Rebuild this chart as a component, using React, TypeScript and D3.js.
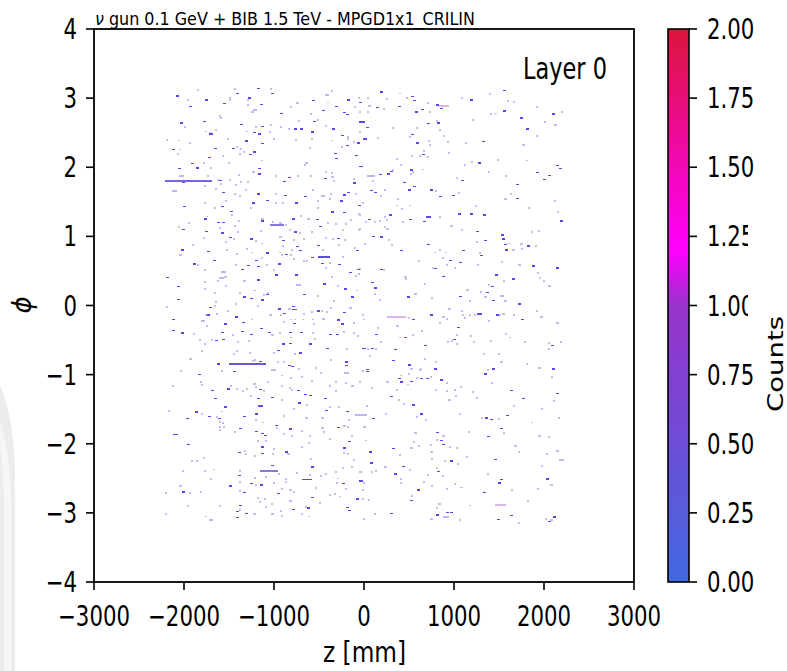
import React from "react";
import * as d3 from "d3";

// ---------- data (z in mm, phi in rad) ----------
const xTicks = [-3000, -2000, -1000, 0, 1000, 2000, 3000];
const yTicks = [-4, -3, -2, -1, 0, 1, 2, 3, 4];
const cTicks = [0, 0.25, 0.5, 0.75, 1.0, 1.25, 1.5, 1.75, 2.0];
const cStops = [0, 1.0, 1.2, 2.0];
const cColors = ["#4169e1", "#9932cc", "#ff00ff", "#dc143c"];

const darkHits: [number, number][] = [
[-1181,3.14],[-1415,3.07],[-1026,3.07],[-2074,3.03],[-1277,3.00],[-1755,2.97],[-1144,2.91],[-566,2.96],[-174,2.97],[-40,2.94],[-1929,2.88],[-1555,2.92],[-307,2.88],[-926,2.78],[-226,2.79],[-455,2.82],[-551,2.66],[-185,2.76],[-2029,2.64],[-1774,2.66],[-1366,2.62],[-1137,2.59],[-766,2.55],[-703,2.55],[-340,2.55],[-1218,2.50],[-1166,2.48],[-574,2.51],[-240,2.46],[-1315,2.38],[4,2.41],[-1129,2.34],[-192,2.31],[-63,2.35],[-2126,2.26],[-1655,2.27],[-1455,2.27],[-322,2.20],[-1270,2.18],[-1722,2.14],[-1226,2.22],[-85,2.17],[-314,2.13],[-1907,2.05],[-1852,1.99],[-48,2.01],[-2055,1.98],[-1163,1.98],[-1170,1.90],[-837,1.85],[-429,1.84],[-2007,1.78],[-1600,1.81],[-885,1.79],[-114,1.77],[-1570,1.63],[-1174,1.61],[-874,1.59],[-655,1.58],[-222,1.60],[-181,1.63],[-1233,1.48],[-1074,1.52],[-759,1.48],[-255,1.51],[-2003,1.43],[-1574,1.43],[-351,1.35],[-226,1.34],[-55,1.45],[-1478,1.36],[-1766,1.25],[-1618,1.20],[-1570,1.20],[-1137,1.22],[-785,1.25],[-522,1.24],[-485,1.14],[-2015,1.10],[-1755,1.07],[-1574,1.05],[-766,1.06],[-285,0.97],[-1492,0.98],[-1255,0.96],[-903,0.94],[-744,0.85],[-707,0.79],[-514,0.87],[-77,0.79],[-2018,0.80],[-1737,0.78],[-1077,0.76],[-870,0.74],[-1670,0.65],[-1203,0.65],[-944,0.60],[-581,0.69],[-470,0.61],[-281,0.59],[-1892,0.60],[-1352,0.52],[-1285,0.58],[-1181,0.56],[-151,0.48],[-63,0.52],[-2189,0.40],[-974,0.44],[-755,0.44],[-1174,0.37],[-2070,0.27],[-1077,0.16],[-440,0.31],[-211,0.24],[-1329,0.12],[-1255,0.10],[-1137,0.08],[-670,0.16],[-137,0.12],[-2066,0.09],[-1707,-0.03],[-944,-0.05],[-785,-0.02],[-892,-0.12],[-507,-0.08],[-226,-0.10],[-1729,-0.14],[-1426,-0.17],[-2122,-0.20],[-1544,-0.27],[-1340,-0.25],[-1144,-0.33],[-781,-0.26],[-292,-0.21],[-240,-0.27],[-2126,-0.36],[-2018,-0.40],[-1581,-0.39],[-1359,-0.38],[-1255,-0.42],[-1055,-0.39],[-818,-0.39],[-700,-0.39],[-381,-0.42],[-300,-0.42],[-1648,-0.51],[-1567,-0.49],[-900,-0.56],[-818,-0.55],[-596,-0.56],[4,-0.62],[-959,-0.65],[-715,-0.69],[-411,-0.62],[-1155,-0.81],[-833,-0.87],[-800,-0.88],[-203,-0.82],[-196,-0.87],[-1618,-0.85],[-1441,-0.96],[-1833,-1.00],[-1159,-1.22],[-1515,-1.21],[-1685,-1.23],[-737,-1.23],[-655,-1.29],[-603,-1.30],[-1655,-1.35],[-1181,-1.35],[-1018,-1.33],[-722,-1.41],[-433,-1.35],[-1544,-1.47],[-1870,-1.54],[-1203,-1.57],[-426,-1.52],[-189,-1.53],[-1722,-1.61],[-1607,-1.64],[-1329,-1.61],[-1966,-1.64],[-981,-1.74],[-1374,-1.78],[-818,-1.79],[-285,-1.77],[-1203,-1.82],[-1137,-1.85],[-1100,-1.88],[-1959,-2.01],[-166,-1.97],[-1137,-2.05],[-870,-2.12],[-1389,-2.13],[-1129,-2.14],[-218,-2.06],[-1018,-2.32],[-581,-2.34],[-1389,-2.46],[-48,-2.54],[-1255,-2.58],[-1144,-2.60],[-233,-2.58],[-1492,-2.61],[-2011,-2.70],[-1337,-2.71],[-952,-2.72],[-581,-2.78],[-77,-2.80],[-1381,-2.89],[-626,-2.93],[-189,-2.92],[-166,-2.97],[-1411,-2.98],[-1307,-3.01],[-1411,-3.07],[-789,-2.95],
[193,3.09],[534,3.02],[556,2.96],[808,2.90],[852,2.85],[1186,2.97],[1556,3.11],[149,2.86],[386,2.88],[578,2.80],[645,2.83],[2097,2.77],[1556,2.81],[823,2.64],[712,2.63],[37,2.57],[1749,2.71],[1808,2.55],[8,2.41],[534,2.47],[593,2.35],[1319,2.37],[652,2.18],[1275,2.06],[527,1.96],[304,1.94],[-37,2.01],[2141,2.02],[2178,1.98],[178,1.89],[267,1.90],[1919,1.92],[2053,1.88],[2001,1.82],[1089,1.81],[445,1.78],[556,1.72],[75,1.66],[119,1.63],[497,1.67],[741,1.67],[845,1.58],[986,1.59],[1697,1.75],[1697,1.55],[60,1.24],[289,1.31],[512,1.24],[667,1.21],[1060,1.32],[1186,1.32],[1334,1.31],[1252,1.07],[2193,1.22],[97,1.00],[186,0.99],[712,0.88],[408,0.79],[1097,0.79],[1297,0.72],[1349,0.94],[1534,1.02],[1541,0.96],[1564,0.88],[1578,0.80],[1823,0.86],[956,0.65],[1067,0.62],[786,0.53],[186,0.52],[1875,0.57],[2141,0.54],[882,0.42],[1467,0.44],[1660,0.38],[89,0.33],[126,0.25],[1423,0.27],[489,0.12],[1067,0.13],[1364,0.19],[1430,0.07],[1719,0.02],[541,-0.20],[741,-0.14],[1482,-0.14],[1756,-0.20],[134,-0.42],[460,-0.46],[682,-0.58],[1045,-0.32],[1001,-0.49],[2090,-0.58],[-14,-0.62],[89,-0.62],[349,-0.64],[319,-0.80],[504,-0.86],[786,-0.92],[30,-0.93],[30,-0.96],[1430,-0.92],[2104,-0.92],[630,-1.06],[697,-1.06],[852,-1.08],[393,-1.06],[415,-1.11],[519,-1.10],[1341,-0.99],[297,-1.32],[549,-1.44],[1638,-1.23],[1771,-1.35],[2141,-1.27],[638,-1.57],[1356,-1.63],[1408,-1.65],[1586,-1.59],[104,-1.64],[808,-1.84],[860,-1.95],[882,-2.01],[1378,-1.90],[1527,-1.78],[67,-2.12],[326,-2.07],[75,-2.28],[430,-2.33],[349,-2.44],[823,-2.40],[963,-2.25],[1460,-2.23],[1519,-2.52],[1497,-2.57],[2030,-2.51],[-29,-2.54],[601,-2.67],[519,-2.82],[304,-3.01],[808,-3.03],[919,-3.00],[963,-3.00],[1334,-2.71],[1630,-3.04],[1490,-3.10],[2053,-3.13],[2112,-3.06]
];

const paleHits: [number, number][] = [
[-1848,3.12],[-1433,3.14],[-1033,3.14],[-359,3.10],[-1492,3.00],[-1959,2.97],[-1485,2.98],[-1289,2.98],[-740,2.93],[-403,2.94],[-55,3.00],[-1285,2.91],[-811,2.88],[-96,2.88],[-1240,2.80],[-589,2.77],[-48,2.80],[-1596,2.75],[-1585,2.71],[-507,2.69],[-722,2.67],[-1989,2.59],[-1196,2.58],[-1033,2.61],[-922,2.58],[-833,2.55],[-422,2.60],[-1648,2.54],[-1759,2.52],[-1711,2.50],[-1300,2.52],[-1048,2.51],[-181,2.44],[-48,2.51],[-2189,2.40],[-2059,2.39],[-1507,2.41],[-996,2.41],[-752,2.40],[-577,2.41],[-359,2.39],[-181,2.41],[-1937,2.35],[-248,2.29],[-114,2.37],[-2044,2.26],[-1411,2.29],[-1370,2.27],[-596,2.28],[-1337,2.23],[-1374,2.19],[-2066,2.19],[-1563,2.17],[-1137,2.10],[-640,2.07],[-1500,2.07],[-1781,2.07],[-1700,1.99],[-655,2.03],[-1229,1.93],[-422,1.93],[-359,1.92],[-1737,1.88],[-1392,1.89],[-974,1.87],[-737,1.88],[-585,1.88],[-351,1.86],[-107,1.83],[-1626,1.82],[-1492,1.82],[-1370,1.79],[-1292,1.79],[-337,1.81],[-1766,1.73],[-1589,1.76],[-1426,1.75],[-1648,1.69],[-1311,1.67],[-1433,1.61],[-1374,1.59],[-981,1.62],[-566,1.67],[-370,1.61],[-85,1.62],[-11,1.48],[-1766,1.49],[-1537,1.51],[-981,1.49],[-896,1.48],[-507,1.51],[-374,1.54],[-1655,1.41],[-1255,1.41],[-514,1.41],[-1463,1.31],[-1944,1.19],[-1748,1.29],[-1389,1.23],[-1129,1.26],[-1015,1.21],[-929,1.19],[-863,1.17],[-700,1.30],[-618,1.25],[-396,1.19],[-311,1.18],[-196,1.18],[-144,1.24],[-55,1.32],[-2052,1.14],[-1596,1.13],[-1433,1.15],[-1396,1.06],[-1144,1.08],[-929,1.00],[-826,1.10],[-714,1.05],[-581,1.07],[-426,0.98],[-344,0.97],[-237,1.09],[-55,1.10],[-1774,0.98],[-1448,0.97],[-1537,0.92],[-1203,0.94],[-781,0.95],[-670,0.96],[-211,0.95],[-1900,0.88],[-1526,0.81],[-1137,0.90],[-903,0.87],[-796,0.81],[-455,0.81],[-274,0.88],[-100,0.83],[-2040,0.74],[-1407,0.75],[-1300,0.82],[-1248,0.77],[-933,0.77],[-907,0.74],[-811,0.73],[-781,0.67],[-233,0.70],[-1426,0.59],[-1137,0.69],[-1077,0.59],[-663,0.65],[-633,0.65],[-381,0.62],[-1848,0.59],[-1766,0.52],[-1626,0.36],[-1003,0.52],[-426,0.55],[-55,0.46],[-1540,0.42],[-1329,0.36],[-359,0.41],[-92,0.43],[-1766,0.34],[-1766,0.24],[-1537,0.28],[-1218,0.22],[-1111,0.15],[-1063,0.19],[-285,0.28],[-77,0.22],[-1655,0.19],[-1381,0.19],[-514,0.14],[-333,0.07],[-2192,-0.02],[-1652,0.00],[-1644,0.05],[-1422,0.02],[-1178,0.00],[-829,-0.05],[-663,-0.12],[-577,-0.09],[-466,-0.08],[-414,-0.09],[-363,-0.03],[-151,-0.03],[-11,-0.14],[-1759,-0.14],[-1637,-0.12],[-1507,-0.08],[-1248,-0.20],[-1040,-0.13],[-922,-0.13],[-811,-0.20],[-766,-0.20],[-677,-0.20],[-566,-0.20],[-451,-0.19],[-1748,-0.29],[-892,-0.24],[-559,-0.26],[-114,-0.25],[-1892,-0.41],[-1455,-0.42],[-1018,-0.42],[-937,-0.39],[-811,-0.46],[-566,-0.39],[-226,-0.38],[-107,-0.40],[-63,-0.44],[-1826,-0.49],[-1685,-0.50],[-1766,-0.56],[-1396,-0.52],[-1277,-0.51],[-544,-0.48],[-1796,-0.66],[-1407,-0.65],[-1263,-0.69],[-996,-0.68],[-766,-0.70],[-189,-0.63],[-1929,-0.77],[-1448,-0.70],[-1211,-0.78],[-959,-0.81],[-892,-0.82],[-722,-0.91],[-537,-0.90],[-366,-0.78],[-1233,-0.80],[-1581,-0.94],[-2033,-0.94],[-907,-1.01],[-477,-0.97],[-11,-0.95],[-1811,-1.10],[-1796,-1.15],[-1218,-1.13],[-1066,-1.10],[-914,-1.16],[-815,-1.05],[-685,-1.03],[-574,-1.09],[-314,-1.10],[-203,-1.12],[-2122,-1.16],[-1478,-1.16],[-1411,-1.20],[-1300,-1.20],[-1196,-1.17],[-1344,-1.24],[-1107,-1.23],[-826,-1.19],[-796,-1.22],[-374,-1.16],[-307,-1.24],[-129,-1.16],[-1255,-1.30],[-914,-1.36],[-633,-1.44],[-374,-1.47],[-281,-1.46],[-2166,-1.52],[-1803,-1.57],[-1574,-1.53],[-892,-1.59],[-774,-1.50],[-1633,-1.61],[-1203,-1.65],[-462,-1.63],[-1596,-1.68],[-1566,-1.70],[-1552,-1.75],[-1603,-1.76],[-1122,-1.69],[-640,-1.63],[-166,-1.66],[-966,-1.77],[-685,-1.81],[-462,-1.77],[-218,-1.74],[-174,-1.76],[-3,-1.75],[-1596,-1.80],[-1433,-1.83],[-892,-1.85],[-796,-1.89],[-603,-1.89],[-448,-1.83],[-137,-1.89],[-1174,-1.96],[-1085,-1.96],[-611,-1.98],[-374,-1.93],[-996,-2.07],[-840,-2.15],[-692,-2.05],[-1322,-2.10],[-1315,-2.15],[-1011,-2.14],[-226,-2.13],[-174,-2.14],[-1774,-2.20],[-1907,-2.25],[-1855,-2.24],[-1211,-2.18],[-589,-2.22],[-114,-2.23],[-2011,-2.39],[-1766,-2.39],[-1670,-2.37],[-1378,-2.39],[-744,-2.42],[-426,-2.44],[-314,-2.40],[-233,-2.35],[-137,-2.34],[-33,-2.40],[-1211,-2.49],[-1092,-2.48],[-944,-2.43],[-603,-2.45],[-1700,-2.51],[-870,-2.51],[-477,-2.47],[-285,-2.50],[-1374,-2.55],[-1203,-2.59],[-1003,-2.56],[-863,-2.55],[-300,-2.56],[-3,-2.57],[-2040,-2.61],[-914,-2.65],[-818,-2.67],[-537,-2.64],[-203,-2.65],[-2203,-2.71],[-1937,-2.71],[-1811,-2.70],[-1381,-2.68],[-781,-2.70],[-374,-2.74],[-322,-2.73],[-263,-2.76],[-11,-2.66],[-1174,-2.78],[-1100,-2.79],[-818,-2.82],[-1159,-2.84],[-1026,-2.87],[-485,-2.85],[-1952,-2.90],[-1596,-2.90],[-1374,-2.95],[-1092,-2.91],[-648,-2.91],[-922,-2.97],[-1218,-3.02],[-1018,-3.01],[-907,-3.04],[-692,-3.02],[-2203,-3.02],[-1759,-3.05],[-611,-3.05],[-3,-3.09],
[400,3.07],[475,3.00],[712,2.93],[1089,3.01],[1400,3.06],[1601,2.96],[1667,2.95],[45,3.00],[252,2.99],[60,2.89],[223,2.84],[734,2.80],[1919,2.87],[2201,2.80],[1415,2.77],[1460,2.78],[45,2.80],[808,2.67],[586,2.57],[319,2.57],[845,2.54],[1208,2.69],[2008,2.66],[2127,2.61],[156,2.43],[512,2.44],[719,2.38],[734,2.33],[934,2.37],[1134,2.35],[889,2.45],[1771,2.33],[1919,2.45],[667,2.24],[534,2.16],[623,2.16],[712,2.15],[941,2.21],[363,2.12],[415,2.04],[1201,2.08],[1490,2.11],[1808,2.10],[1119,2.03],[652,1.97],[541,1.93],[326,1.96],[519,1.91],[1386,1.94],[1578,1.88],[1037,1.85],[104,1.80],[193,1.59],[230,1.68],[801,1.66],[1052,1.63],[378,1.55],[1630,1.62],[1571,1.54],[2119,1.51],[-14,1.48],[363,1.45],[512,1.45],[1245,1.44],[1830,1.41],[-44,1.31],[23,1.21],[119,1.21],[230,1.28],[252,1.24],[178,1.23],[230,1.14],[260,1.11],[423,1.40],[430,1.21],[845,1.28],[971,1.15],[1089,1.09],[2156,1.36],[1867,1.06],[1941,1.08],[-44,1.11],[275,0.95],[15,0.89],[312,0.88],[845,0.81],[912,0.77],[786,0.77],[1290,0.76],[1252,0.92],[1608,0.90],[1660,0.81],[1749,0.89],[1756,0.82],[1912,0.86],[875,0.69],[608,0.64],[919,0.59],[1015,0.54],[763,0.55],[223,0.52],[-44,0.53],[1267,0.59],[1534,0.63],[1727,0.59],[1934,0.47],[460,0.42],[467,0.38],[1556,0.36],[1956,0.40],[2001,0.36],[2060,0.28],[675,0.32],[1386,0.30],[126,0.17],[178,0.08],[571,0.17],[756,0.11],[1149,0.23],[1178,0.07],[1297,0.20],[1349,0.13],[1571,0.07],[1919,-0.08],[949,-0.05],[1089,-0.08],[-14,-0.14],[0,-0.20],[497,-0.18],[882,-0.16],[919,-0.19],[845,-0.25],[1097,-0.14],[1126,-0.18],[1178,-0.14],[1230,-0.13],[1393,-0.22],[1512,-0.13],[1549,-0.12],[1667,-0.14],[1971,-0.17],[2149,-0.25],[371,-0.29],[645,-0.36],[156,-0.32],[186,-0.53],[400,-0.46],[541,-0.43],[1037,-0.42],[1186,-0.44],[934,-0.53],[978,-0.51],[1037,-0.56],[1223,-0.53],[1415,-0.51],[1578,-0.41],[1623,-0.46],[1786,-0.53],[2053,-0.54],[2193,-0.52],[2053,-0.63],[45,-0.62],[134,-0.62],[67,-0.73],[527,-0.91],[630,-0.91],[675,-0.77],[801,-0.81],[623,-0.93],[1334,-0.70],[1497,-0.70],[1527,-0.81],[1378,-0.93],[1808,-0.85],[1949,-0.90],[-44,-1.10],[497,-0.99],[408,-1.01],[593,-1.04],[741,-1.03],[260,-1.11],[489,-1.14],[926,-1.12],[1423,-1.12],[2090,-1.03],[89,-1.19],[363,-1.22],[801,-1.22],[919,-1.24],[1075,-1.17],[1008,-1.22],[1215,-1.25],[1023,-1.30],[393,-1.37],[445,-1.42],[949,-1.36],[1252,-1.33],[2112,-1.38],[30,-1.45],[245,-1.57],[586,-1.61],[690,-1.65],[1067,-1.57],[1312,-1.63],[1504,-1.64],[1667,-1.45],[1978,-1.49],[1867,-1.69],[2164,-1.62],[8,-1.75],[571,-1.84],[882,-1.89],[556,-1.97],[608,-2.03],[815,-1.94],[956,-2.04],[1037,-2.06],[741,-2.02],[1164,-1.83],[1556,-1.84],[1682,-2.03],[1949,-1.89],[2053,-1.90],[23,-1.95],[527,-2.06],[400,-2.16],[749,-2.11],[756,-2.22],[1719,-2.11],[2030,-2.14],[2149,-2.10],[238,-2.33],[512,-2.38],[-44,-2.41],[89,-2.40],[134,-2.39],[408,-2.51],[415,-2.56],[667,-2.55],[712,-2.45],[808,-2.35],[875,-2.46],[904,-2.25],[1045,-2.29],[1141,-2.19],[1378,-2.43],[1978,-2.32],[2082,-2.60],[1082,-2.63],[1015,-2.58],[756,-2.61],[926,-2.65],[534,-2.75],[-14,-2.79],[52,-2.81],[119,-3.01],[0,-3.09],[838,-2.87],[815,-2.92],[749,-3.08],[1067,-3.10],[1178,-2.89],[1719,-3.14],[1645,-2.67],[1823,-2.83],[1934,-2.65],[2023,-3.09],[2082,-3.10]
];

// elongated deposits: [zStart, zEnd, phi, kind]
const tracks: [number, number, number, string][] = [
[-2211,-1685,1.80,"track"],[-1040,-892,1.16,"mid"],[-507,-377,0.70,"dark"],[-1500,-1085,-0.84,"deep"],
[-1152,-952,-2.40,"mid"],[-692,-581,-2.52,"dark"],[-100,30,-1.59,"pale"],[-60,15,2.65,"dark"],
[838,949,2.88,"pink"],[252,467,-0.17,"pink"],[1460,1578,-2.88,"pink"],[37,126,1.87,"pale"],
[882,949,-3.06,"pale"],[-218,-163,-0.97,"pale"],[690,741,1.28,"dark"],[1252,1312,-0.13,"dark"],
[-436,-386,3.04,"pale"],[-1236,-1186,2.83,"pale"],[-2054,-2004,1.87,"pale"],[-2132,-2082,1.65,"pale"],
[-480,-430,1.59,"pale"],[-1584,-1534,0.48,"pale"],[-1606,-1556,0.40,"pale"],[-754,-704,0.30,"pale"],
[-1814,-1764,-0.23,"pale"],[-1028,-978,-0.93,"pale"],[1509,1559,0.14,"pale"],[2168,2218,-2.24,"pale"],
[-1725,-1675,-3.11,"pale"],[-1725,-1675,2.48,"dark"],[-795,-745,-0.06,"dark"],[-1177,-1127,-1.46,"dark"],[-2117,-2067,-1.87,"dark"]
];

const kindColor: Record<string, string> = {
  track: "#7565e2", deep: "#6a58c8", mid: "#8a78e0", dark: "#5a4de6", pale: "#bfb6f0", pink: "#dcb6ea",
};

const W = 787, H = 671;
const PL = 94, PR = 634, PT = 29, PB = 582;
const CB0 = 668, CB1 = 689;
const FONT = "'DejaVu Sans', sans-serif";
const SX = 0.76;

function T(props: any) {
  const { x, y, rot, sx = SX, size = 28, anchor = "start", children, ...rest } = props;
  const tr = `translate(${x},${y})${rot ? ` rotate(${rot})` : ""} scale(${sx},1)`;
  return (
    <text transform={tr} fontSize={size} textAnchor={anchor} fontFamily={FONT} fill="#000" {...rest}>
      {children}
    </text>
  );
}

export default function App() {
  const x = d3.scaleLinear().domain([-3000, 3000]).range([PL, PR]);
  const y = d3.scaleLinear().domain([-4, 4]).range([PB, PT]);
  const cy = d3.scaleLinear().domain([0, 2]).range([PB, PT]);
  const cmap = d3.scaleLinear<string>().domain(cStops).range(cColors).interpolate(d3.interpolateRgb);
  const binW = Math.abs(x(25) - x(0));
  const binH = Math.abs(y(0) - y(0.022));
  const gradStops = d3.range(0, 1.0001, 0.05);
  const fmt = (v: number) => (v < 0 ? "\u2212" + Math.abs(v) : String(v));

  return (
    <svg width={W} height={H} style={{ display: "block", position: "absolute", left: 0, top: 0, background: "#fff" }}>
      <defs>
        <linearGradient id="cbar" x1="0" y1="1" x2="0" y2="0">
          {gradStops.map((t) => (
            <stop key={t} offset={t} stopColor={cmap(t * 2)} />
          ))}
        </linearGradient>
      </defs>
      <rect x={0} y={0} width={W} height={H} fill="#fff" />
      {/* faint watermark fragment at left edge */}
      <path d="M0,385 Q15,420 15,480 L15,671 L0,671 Z" fill="#ececec" />
      <path d="M0,420 Q11,455 11,500 L11,671 L4,671 L4,520 Q4,470 0,445 Z" fill="#f6f6f6" />

      {/* hits */}
      <g shapeRendering="crispEdges">
        {paleHits.map(([z, p], i) => (
          <rect key={"p" + i} x={x(z) - binW / 2} y={y(p) - binH / 2} width={binW} height={binH + 0.4} fill="#c4bdf2" />
        ))}
        {darkHits.map(([z, p], i) => (
          <rect key={"d" + i} x={x(z) - binW / 2} y={y(p) - binH / 2} width={binW + 0.8} height={binH * 0.9} fill="#5548e6" />
        ))}
        {tracks.map(([z0, z1, p, k], i) => (
          <rect key={"t" + i} x={x(z0)} y={y(p) - 1} width={x(z1) - x(z0)} height={k === "pale" || k === "pink" || k === "deep" ? 2 : 1.6} fill={kindColor[k]} />
        ))}
      </g>

      {/* frame */}
      <rect x={PL} y={PT} width={PR - PL} height={PB - PT} fill="none" stroke="#000" strokeWidth={1.8} />
      {xTicks.map((v) => (
        <g key={"xt" + v}>
          <line x1={x(v)} x2={x(v)} y1={PB} y2={PB + 8} stroke="#000" strokeWidth={1.6} />
          <T x={x(v)} y={626} anchor="middle">{fmt(v)}</T>
        </g>
      ))}
      {yTicks.map((v) => (
        <g key={"yt" + v}>
          <line x1={PL - 8} x2={PL} y1={y(v)} y2={y(v)} stroke="#000" strokeWidth={1.6} />
          <T x={77} y={y(v) + 10} anchor="end">{fmt(v)}</T>
        </g>
      ))}

      {/* labels */}
      <text x={95} y={25} fontSize={18} fontFamily={FONT} textLength={380} lengthAdjust="spacingAndGlyphs">
        <tspan fontStyle="italic">ν</tspan> gun 0.1 GeV + BIB 1.5 TeV - MPGD1x1_CRILIN
      </text>
      <text x={523} y={79} fontSize={30} fontFamily={FONT} textLength={84} lengthAdjust="spacingAndGlyphs">Layer 0</text>
      <text x={323} y={662} fontSize={28} fontFamily={FONT} textLength={83} lengthAdjust="spacingAndGlyphs">z [mm]</text>
      <T x={31} y={305} rot={-90} sx={1} size={26} anchor="middle" fontStyle="italic">ϕ</T>

      {/* colorbar */}
      <rect x={CB0} y={PT} width={CB1 - CB0} height={PB - PT} fill="url(#cbar)" />
      <rect x={CB0} y={PT} width={CB1 - CB0} height={PB - PT} fill="none" stroke="#000" strokeWidth={1.6} />
      {cTicks.map((v) => (
        <g key={"ct" + v}>
          <line x1={CB1} x2={CB1 + 8} y1={cy(v)} y2={cy(v)} stroke="#000" strokeWidth={1.6} />
          <T x={707} y={cy(v) + 10}>{v.toFixed(2)}</T>
        </g>
      ))}
      <rect x={748} y={222} width={39} height={100} fill="#fff" />
      <text transform="translate(783,364) rotate(-90)" fontSize={22} fontFamily={FONT} textAnchor="middle" textLength={96} lengthAdjust="spacingAndGlyphs">Counts</text>
    </svg>
  );
}
